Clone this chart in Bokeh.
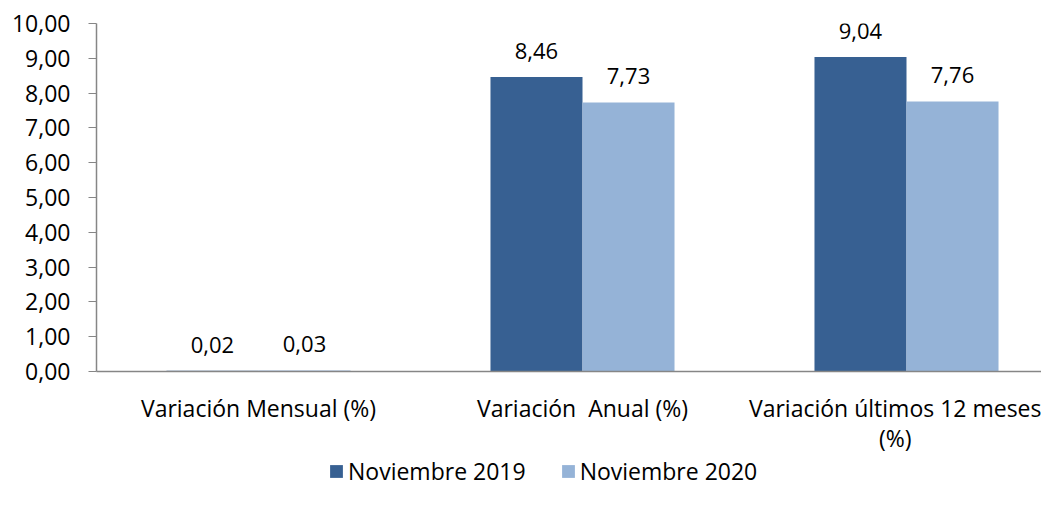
import numpy as np
from bokeh.plotting import figure
from bokeh.layouts import column
from bokeh.models import ColumnDataSource, Range1d, FixedTicker, Legend, LegendItem, LabelSet
from bokeh.core.properties import value
from bokeh.transform import dodge
from bokeh.embed import file_html
from bokeh.resources import INLINE

categories = ["Variación Mensual (%)", "Variación\u00a0 Anual (%)", "Variación últimos 12 meses\n(%)"]
series_names = ["Noviembre 2019", "Noviembre 2020"]
nov_2019 = [0.02, 8.46, 9.04]
nov_2020 = [0.03, 7.73, 7.76]
y_ticks = [0, 1, 2, 3, 4, 5, 6, 7, 8, 9, 10]
y_tick_labels = ["0,00", "1,00", "2,00", "3,00", "4,00", "5,00", "6,00", "7,00", "8,00", "9,00", "10,00"]

DARK = "#376092"
LIGHT = "#95B3D7"
AXIS = "#868686"
FONT = "Open Sans"
FS = "23px"
FS_LBL = "22px"

x = (np.arange(len(categories)) + 0.5).tolist()
fmt = lambda v: f"{v:.2f}".replace(".", ",")
src = ColumnDataSource(dict(
    x=x, a=nov_2019, b=nov_2020,
    la=[fmt(v) for v in nov_2019], lb=[fmt(v) for v in nov_2020],
))

W = 1041
H_MAIN = 456
H_LEG = 33
LEFT = 96
p = figure(width=W, height=H_MAIN, output_backend="svg", toolbar_location=None,
           x_range=Range1d(0, (W - LEFT) / 324), y_range=Range1d(0, 10),
           min_border_left=LEFT, min_border_right=0, min_border_top=23,
           min_border_bottom=H_MAIN - 371)
p.outline_line_color = None
p.xgrid.visible = False
p.ygrid.visible = False
p.background_fill_color = "white"
p.border_fill_color = "white"

bw = 0.284
off = 0.142
r1 = p.vbar(x=dodge("x", -off, range=p.x_range), top="a", width=bw, source=src,
            fill_color=DARK, line_color=None)
r2 = p.vbar(x=dodge("x", off, range=p.x_range), top="b", width=bw, source=src,
            fill_color=LIGHT, line_color=None)

for col, lab, o in (("a", "la", -off), ("b", "lb", off)):
    ls = LabelSet(x=dodge("x", o, range=p.x_range), y=col, text=lab, source=src,
                  text_align="center", text_baseline="alphabetic", y_offset=18,
                  text_font=value(FONT), text_font_size=value(FS_LBL), text_color="#000000")
    p.add_layout(ls)

# y axis
ya = p.yaxis[0]
ya.ticker = FixedTicker(ticks=y_ticks)
ya.major_label_overrides = {t: l for t, l in zip(y_ticks, y_tick_labels)}
ya.minor_tick_line_color = None
ya.major_tick_in = 0
ya.major_tick_out = 8
ya.axis_line_color = AXIS
ya.major_tick_line_color = AXIS
ya.axis_line_width = 1.5
ya.major_label_standoff = 18
ya.major_label_text_font = FONT
ya.major_label_text_font_size = FS
ya.major_label_text_color = "#000000"

# x axis
xa = p.xaxis[0]
xa.ticker = FixedTicker(ticks=x)
xa.major_label_overrides = {t: c for t, c in zip(x, categories)}
xa.minor_tick_line_color = None
xa.major_tick_line_color = None
xa.axis_line_color = AXIS
xa.axis_line_width = 1.5
xa.major_label_standoff = 14
xa.major_label_text_font = FONT
xa.major_label_text_font_size = FS
xa.major_label_text_color = "#000000"
xa.major_label_text_line_height = 0.95

# legend figure (frame aligned with the main plot)
lf = figure(width=W, height=H_LEG, output_backend="svg", toolbar_location=None,
            x_range=Range1d(0, 1), y_range=Range1d(0, 1),
            min_border_left=LEFT, min_border_right=0, min_border_top=0, min_border_bottom=0)
lf.axis.visible = False
lf.grid.visible = False
lf.outline_line_color = None
lf.background_fill_color = "white"
lf.border_fill_color = "white"
lr1 = lf.vbar(x=[0.5], top=[0], width=0.01, fill_color=DARK, line_color=None)
lr2 = lf.vbar(x=[0.5], top=[0], width=0.01, fill_color=LIGHT, line_color=None)
legend = Legend(items=[LegendItem(label=series_names[0], renderers=[lr1]),
                       LegendItem(label=series_names[1], renderers=[lr2])],
                orientation="horizontal", location=(328 - LEFT, 2),
                label_text_font=FONT, label_text_font_size=FS, label_text_color="#000000",
                glyph_width=16, glyph_height=16, label_standoff=4, spacing=34,
                border_line_color=None, background_fill_alpha=0, padding=0, margin=0)
lf.add_layout(legend)

layout = column(p, lf, spacing=0)
open("out.html", "w").write(file_html(layout, INLINE))
